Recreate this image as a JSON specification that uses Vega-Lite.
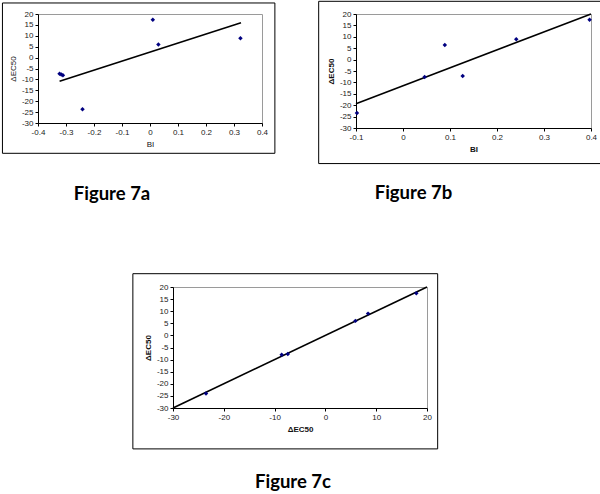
{
  "$schema": "https://vega.github.io/schema/vega-lite/v6.json",
  "padding": {"left": 1, "top": 0, "right": 0, "bottom": 0},
  "autosize": {"type": "pad"},
  "background": "white",
  "config": {
    "locale": {"number": {"decimal": ".", "thousands": ",", "grouping": [3], "currency": ["$", ""], "minus": "-"}},
    "view": {"stroke": "#9a9a9a", "strokeWidth": 1},
    "axis": {"labelFont": "Liberation Sans", "labelFontSize": 8, "labelColor": "#222222", "titleFont": "Liberation Sans", "titleFontSize": 8, "titleColor": "#111111", "domainColor": "#000000", "tickColor": "#000000", "tickSize": 3, "grid": false, "labelPadding": 2, "titleFontWeight": "bold", "titlePadding": 4, "labelFlush": false, "labelOverlap": false},
    "title": {"font": "Lato", "fontSize": 18.5, "fontWeight": "bold", "color": "#000000", "orient": "bottom"}
  },
  "datasets": {
    "a_frame": [{"x": -0.527, "x2": 0.446, "y": -43.9, "y2": 25.06}],
    "a_points": [
      {"x": -0.323, "y": -7.45}, {"x": -0.317, "y": -7.8}, {"x": -0.311, "y": -8.1},
      {"x": -0.241, "y": -23.7}, {"x": 0.010, "y": 17.4}, {"x": 0.030, "y": 6.0}, {"x": 0.323, "y": 8.9}
    ],
    "a_line": [{"x": -0.323, "y": -10.8}, {"x": 0.325, "y": 16.0}],
    "b_frame": [{"x": -0.1794, "x2": 0.4221, "y": -45.6, "y2": 25.57}],
    "b_points": [
      {"x": -0.098, "y": -23.4}, {"x": 0.046, "y": -7.6}, {"x": 0.089, "y": 6.4},
      {"x": 0.127, "y": -7.2}, {"x": 0.241, "y": 8.9}, {"x": 0.397, "y": 17.5}
    ],
    "b_line": [{"x": -0.1, "y": -19.4}, {"x": 0.4, "y": 20}],
    "c_frame": [{"x": -37.9, "x2": 22.1, "y": -46.9, "y2": 25.5}],
    "c_points": [
      {"x": -23.5, "y": -24.0}, {"x": -8.6, "y": -8.0}, {"x": -7.4, "y": -7.7},
      {"x": 5.9, "y": 6.0}, {"x": 8.4, "y": 9.0}, {"x": 17.9, "y": 17.4}
    ],
    "c_line": [{"x": -30, "y": -30}, {"x": 20, "y": 20}]
  },
  "vconcat": [
    {
      "hconcat": [
        {
          "width": 224, "height": 109,
          "title": {"text": "Figure 7a", "offset": 31, "dx": -38},
          "encoding": {
            "x": {"field": "x", "type": "quantitative", "title": "BI", "scale": {"domain": [-0.4, 0.4], "nice": false, "zero": false},
                  "axis": {"values": [-0.4, -0.3, -0.2, -0.1, 0, 0.1, 0.2, 0.3, 0.4], "format": ".1~f", "titleFontWeight": "normal"}},
            "y": {"field": "y", "type": "quantitative", "title": "ΔEC50", "scale": {"domain": [-30, 20], "nice": false, "zero": false},
                  "axis": {"values": [-30, -25, -20, -15, -10, -5, 0, 5, 10, 15, 20], "format": "d", "titleFontWeight": "normal"}}
          },
          "layer": [
            {"data": {"name": "a_frame"}, "mark": {"type": "rect", "filled": false, "color": "#000000", "strokeWidth": 1, "clip": false},
             "encoding": {"x2": {"field": "x2"}, "y2": {"field": "y2"}}},
            {"data": {"name": "a_line"}, "mark": {"type": "line", "color": "#000000", "strokeWidth": 1.6}},
            {"data": {"name": "a_points"}, "mark": {"type": "point", "shape": "diamond", "filled": true, "color": "#000080", "size": 20, "opacity": 1}}
          ]
        },
        {
          "width": 235, "height": 114,
          "title": {"text": "Figure 7b", "offset": 20, "dx": -60},
          "encoding": {
            "x": {"field": "x", "type": "quantitative", "title": "BI", "scale": {"domain": [-0.1, 0.4], "nice": false, "zero": false},
                  "axis": {"values": [-0.1, 0, 0.1, 0.2, 0.3, 0.4], "format": ".1~f"}},
            "y": {"field": "y", "type": "quantitative", "title": "ΔEC50", "scale": {"domain": [-30, 20], "nice": false, "zero": false},
                  "axis": {"values": [-30, -25, -20, -15, -10, -5, 0, 5, 10, 15, 20], "format": "d"}}
          },
          "layer": [
            {"data": {"name": "b_frame"}, "mark": {"type": "rect", "filled": false, "color": "#000000", "strokeWidth": 1, "clip": false},
             "encoding": {"x2": {"field": "x2"}, "y2": {"field": "y2"}}},
            {"data": {"name": "b_line"}, "mark": {"type": "line", "color": "#000000", "strokeWidth": 1.6}},
            {"data": {"name": "b_points"}, "mark": {"type": "point", "shape": "diamond", "filled": true, "color": "#000080", "size": 20, "opacity": 1}}
          ]
        }
      ],
      "spacing": 41
    },
    {
      "hconcat": [
        {"width": 93, "height": 10, "data": {"values": []}, "mark": "point", "view": {"stroke": null}},
        {
          "width": 254, "height": 121,
          "title": {"text": "Figure 7c", "offset": 24, "dx": -7},
          "encoding": {
            "x": {"field": "x", "type": "quantitative", "title": "ΔEC50", "scale": {"domain": [-30, 20], "nice": false, "zero": false},
                  "axis": {"values": [-30, -20, -10, 0, 10, 20], "format": "d"}},
            "y": {"field": "y", "type": "quantitative", "title": "ΔEC50", "scale": {"domain": [-30, 20], "nice": false, "zero": false},
                  "axis": {"values": [-30, -25, -20, -15, -10, -5, 0, 5, 10, 15, 20], "format": "d"}}
          },
          "layer": [
            {"data": {"name": "c_frame"}, "mark": {"type": "rect", "filled": false, "color": "#000000", "strokeWidth": 1, "clip": false},
             "encoding": {"x2": {"field": "x2"}, "y2": {"field": "y2"}}},
            {"data": {"name": "c_line"}, "mark": {"type": "line", "color": "#000000", "strokeWidth": 1.6}},
            {"data": {"name": "c_points"}, "mark": {"type": "point", "shape": "diamond", "filled": true, "color": "#000080", "size": 20, "opacity": 1}}
          ]
        }
      ],
      "spacing": 0
    }
  ],
  "spacing": 68
}
